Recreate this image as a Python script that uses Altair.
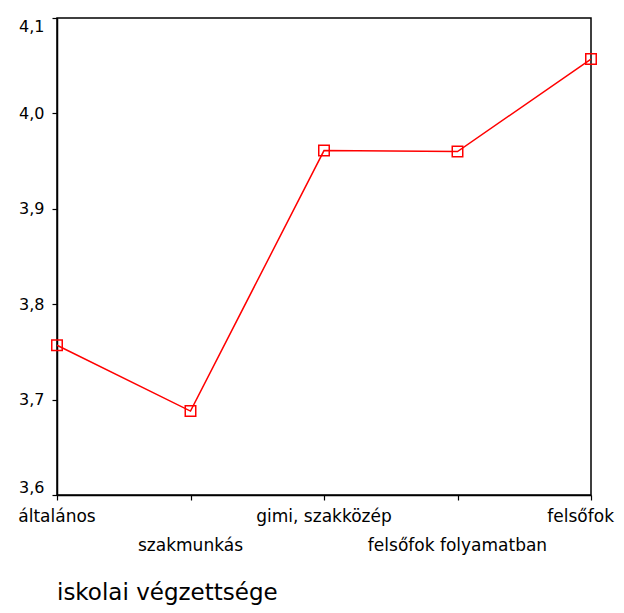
import altair as alt
import pandas as pd

categories = ["általános", "szakmunkás", "gimi, szakközép", "felsőfok folyamatban", "felsőfok"]
values = [3.757, 3.688, 3.961, 3.960, 4.057]
label_rows = [0, 1, 0, 1, 0]
y_ticks = [3.6, 3.7, 3.8, 3.9, 4.0, 4.1]
axis_title = "iskolai végzettsége"

df = pd.DataFrame({"cat": categories, "val": values, "row": label_rows,
                   "last": [c == categories[-1] for c in categories]})

W, H = 534, 477
FONT = "DejaVu Sans"
RED = "#FF0000"

xscale = alt.Scale(type="point", padding=0, domain=categories)
yscale = alt.Scale(domain=[3.6, 4.1], nice=False, zero=False)

xaxis = alt.Axis(labels=False, title=None, ticks=True, tickSize=5,
                 tickColor="black", tickWidth=1.2, domainColor="black",
                 domainWidth=1.5, grid=False)
yaxis = alt.Axis(values=y_ticks, title=None, grid=False, tickSize=5,
                 tickColor="black", tickWidth=1.2, domainColor="black",
                 domainWidth=1.5, labelFlush=True, labelPadding=8,
                 labelFont=FONT, labelFontSize=16, labelColor="black",
                 labelExpr="replace(format(datum.value, '.1f'), '.', ',')")

X = alt.X("cat:N", scale=xscale, sort=categories, axis=xaxis)
Y = alt.Y("val:Q", scale=yscale, axis=yaxis)

base = alt.Chart(df)

line = base.mark_line(color=RED, strokeWidth=1.5).encode(x=X, y=Y)

points = base.mark_point(shape="square", filled=False, color=RED, size=110,
                         strokeWidth=1.5, opacity=1).encode(x=X, y=Y)

lab0 = base.transform_filter("datum.row == 0 && !datum.last").mark_text(
    font=FONT, fontSize=17, color="black", align="center", baseline="alphabetic"
).encode(x=X, y=alt.value(H + 27), text="cat:N")

lab_last = base.transform_filter("datum.last").mark_text(
    font=FONT, fontSize=17, color="black", align="right", baseline="alphabetic", dx=23
).encode(x=X, y=alt.value(H + 27), text="cat:N")

lab1 = base.transform_filter("datum.row == 1").mark_text(
    font=FONT, fontSize=17, color="black", align="center", baseline="alphabetic"
).encode(x=X, y=alt.value(H + 56), text="cat:N")

title = alt.Chart(pd.DataFrame({"t": [axis_title]})).mark_text(
    font=FONT, fontSize=23, color="black", align="left", baseline="alphabetic"
).encode(x=alt.value(0), y=alt.value(H + 105), text="t:N")

chart = alt.layer(line, points, lab0, lab_last, lab1, title).properties(
    width=W, height=H,
    autosize=alt.AutoSizeParams(type="none"),
    padding={"left": 49, "top": 10, "right": 25, "bottom": 110},
).configure(background="white").configure_view(stroke="black", strokeWidth=1.5)

chart.save("out.html", embed_options={"renderer": "svg", "actions": False})
